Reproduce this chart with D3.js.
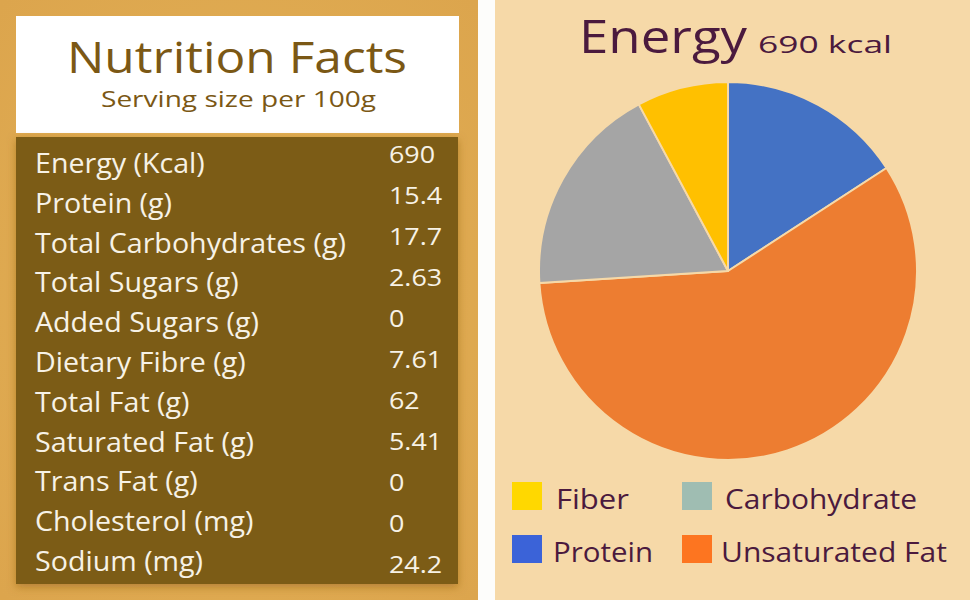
<!DOCTYPE html>
<html>
<head>
<meta charset="utf-8">
<script src="https://cdn.jsdelivr.net/npm/d3@7/dist/d3.min.js"></script>
<style>
  html, body { margin: 0; padding: 0; background: #ffffff; }
  svg { display: block; }
</style>
</head>
<body>
<svg id="chart" width="970" height="600"></svg>
<script>
// ---------- DATA ----------
const nutrientLabels = [
  "Energy (Kcal)", "Protein (g)", "Total Carbohydrates (g)", "Total Sugars (g)",
  "Added Sugars (g)", "Dietary Fibre (g)", "Total Fat (g)", "Saturated Fat (g)",
  "Trans Fat (g)", "Cholesterol (mg)", "Sodium (mg)"
];
const nutrientValues = ["690", "15.4", "17.7", "2.63", "0", "7.61", "62", "5.41", "0", "0", "24.2"];

const energyCategories = ["Protein", "Unsaturated Fat", "Carbohydrate", "Fiber"];
const energyValues = [15.4, 56.59, 17.7, 7.61];
const pieColors = ["#4472c4", "#ed7d31", "#a5a5a5", "#ffc000"];

const legendLabels = ["Fiber", "Carbohydrate", "Protein", "Unsaturated Fat"];
const legendColors = ["#ffd800", "#9fbdb2", "#3b63d8", "#fd7520"];

const titleMain = "Energy";
const titleSub = "690 kcal";

// ---------- DRAW ----------
const svg = d3.select("#chart");
const FONT = "'Open Sans', 'Noto Sans', sans-serif";

// widen glyphs to mimic the wide geometric typeface of the original
function fitWidth(sel, w) {
  sel.attr("textLength", w).attr("lengthAdjust", "spacingAndGlyphs");
}
function stretch(sel, k) {
  sel.each(function () {
    const cur = this.getComputedTextLength();
    d3.select(this).attr("textLength", cur * k).attr("lengthAdjust", "spacingAndGlyphs");
  });
}

// backgrounds
svg.append("rect").attr("x", 0).attr("y", 0).attr("width", 970).attr("height", 600).attr("fill", "#fdfdfb");
const defs = svg.append("defs");
const goldGrad = defs.append("radialGradient").attr("id", "goldg")
  .attr("cx", "50%").attr("cy", "50%").attr("r", "70%");
goldGrad.append("stop").attr("offset", "0%").attr("stop-color", "#e3b257");
goldGrad.append("stop").attr("offset", "100%").attr("stop-color", "#dca54d");
svg.append("rect").attr("x", 0).attr("y", 0).attr("width", 478).attr("height", 600).attr("fill", "url(#goldg)");
svg.append("rect").attr("x", 495).attr("y", 0).attr("width", 475).attr("height", 600).attr("fill", "#f6d9a8");

// header box
svg.append("rect").attr("x", 16).attr("y", 16).attr("width", 443).attr("height", 117).attr("fill", "#ffffff");
svg.append("text").attr("x", 67).attr("y", 73)
  .attr("font-family", FONT).attr("font-size", 44).attr("fill", "#7b5815")
  .text("Nutrition Facts").call(fitWidth, 340);
svg.append("text").attr("x", 101).attr("y", 107)
  .attr("font-family", FONT).attr("font-size", 22).attr("fill", "#7b5815")
  .text("Serving size per 100g").call(fitWidth, 275);

// table
const sh = defs.append("filter").attr("id", "shadow").attr("x", "-10%").attr("y", "-10%").attr("width", "120%").attr("height", "120%");
sh.append("feDropShadow").attr("dx", 0).attr("dy", 3).attr("stdDeviation", 4).attr("flood-color", "#8a5a10").attr("flood-opacity", 0.5);
svg.append("rect").attr("x", 16).attr("y", 137).attr("width", 442).attr("height", 447)
  .attr("fill", "#7c5c18").attr("filter", "url(#shadow)");

const labelY = d3.scaleLinear().domain([0, nutrientLabels.length - 1]).range([173, 571]);
const valueY = d3.scaleLinear().domain([0, nutrientValues.length - 1]).range([163, 573]);

svg.append("g").selectAll("text").data(nutrientLabels).join("text")
  .attr("x", 35).attr("y", (d, i) => labelY(i))
  .attr("font-family", FONT).attr("font-size", 27).attr("fill", "#f7f2e6")
  .text(d => d).call(stretch, 1.06);
svg.append("g").selectAll("text").data(nutrientValues).join("text")
  .attr("x", 389).attr("y", (d, i) => valueY(i))
  .attr("font-family", FONT).attr("font-size", 24).attr("fill", "#f7f2e6")
  .text(d => d).call(stretch, 1.12);

// title
svg.append("text").attr("x", 579).attr("y", 53)
  .attr("font-family", FONT).attr("font-size", 46).attr("fill", "#4b1a3e")
  .text(titleMain).call(fitWidth, 168);
svg.append("text").attr("x", 758).attr("y", 53)
  .attr("font-family", FONT).attr("font-size", 24).attr("fill", "#4b1a3e")
  .text(titleSub).call(fitWidth, 134);

// pie
const cx = 728, cy = 271, R = 189;
const pie = d3.pie().sort(null).value(d => d.v).startAngle(0).endAngle(2 * Math.PI);
const arc = d3.arc().innerRadius(0).outerRadius(R);
const pieData = energyCategories.map((c, i) => ({ c, v: energyValues[i], col: pieColors[i] }));
svg.append("g").attr("transform", `translate(${cx},${cy})`)
  .selectAll("path").data(pie(pieData)).join("path")
  .attr("d", arc).attr("fill", d => d.data.col)
  .attr("stroke", "#f6d9a8").attr("stroke-width", 2).attr("stroke-linejoin", "round");

// legend
const legX = [512, 682], legY = [482, 535];
const legTextX = [556, 725, 553, 721];
const legTextW = [73, 192, 100, 226];
const leg = svg.append("g").selectAll("g").data(legendLabels).join("g")
  .attr("transform", (d, i) => `translate(${legX[i % 2]},${legY[Math.floor(i / 2)]})`);
leg.append("rect").attr("width", 30).attr("height", 28).attr("fill", (d, i) => legendColors[i]);
leg.append("text").attr("x", (d, i) => legTextX[i] - legX[i % 2]).attr("y", 27)
  .attr("font-family", FONT).attr("font-size", 28).attr("fill", "#4b1a3e")
  .text(d => d)
  .each(function (d, i) { d3.select(this).call(fitWidth, legTextW[i]); });
</script>
</body>
</html>
